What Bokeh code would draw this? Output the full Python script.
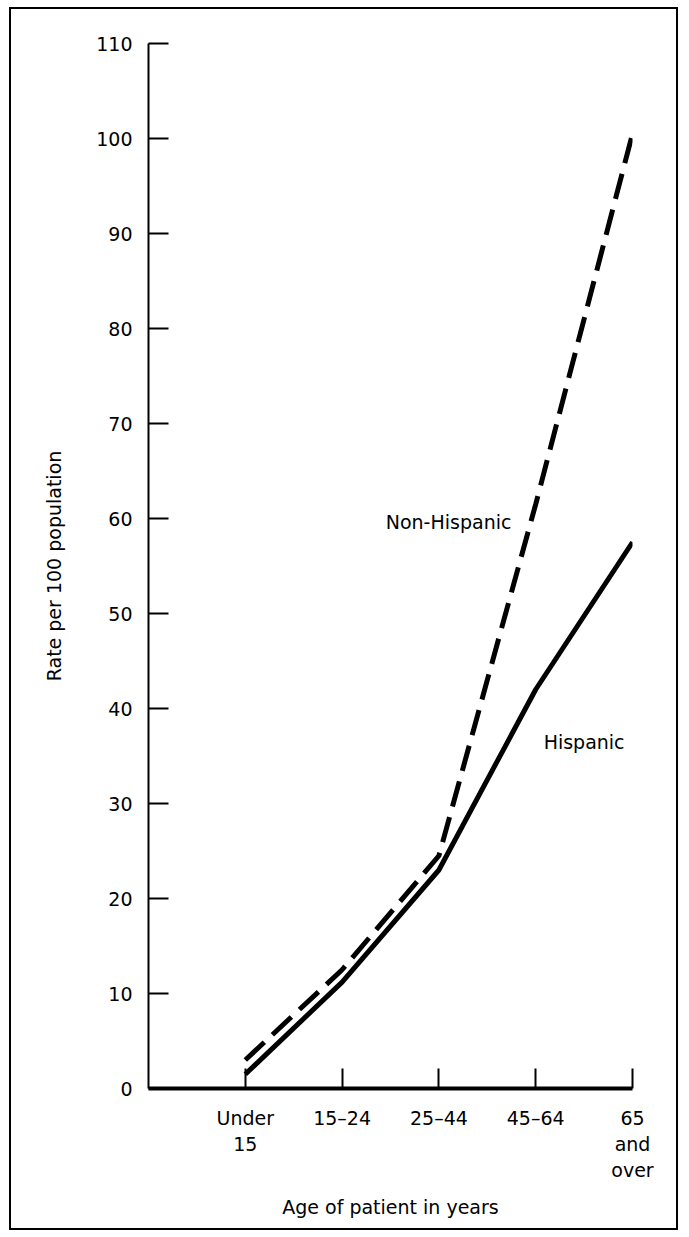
from bokeh.plotting import figure
from bokeh.layouts import column
from bokeh.models import FixedTicker, Range1d, Label, InlineStyleSheet
from bokeh.embed import file_html
from bokeh.resources import INLINE

# ---- data ----
age_groups = ["Under\n15", "15\u201324", "25\u201344", "45\u201364", "65\nand\nover"]
x_pos = [1, 2, 3, 4, 5]
hispanic = [1.5, 11.2, 23.0, 42.0, 57.5]
non_hispanic = [3.0, 12.5, 24.5, 61.5, 100.5]
y_ticks = [0, 10, 20, 30, 40, 50, 60, 70, 80, 90, 100, 110]

FONT = "DejaVu Sans"
FS = "19px"

p = figure(frame_width=484, frame_height=1045,
           min_border_left=137, min_border_right=44,
           min_border_top=34, min_border_bottom=140,
           x_range=Range1d(0, 5), y_range=Range1d(0, 110),
           output_backend="svg", toolbar_location=None)

p.xgrid.visible = False
p.ygrid.visible = False
p.outline_line_color = None
p.background_fill_color = "white"
p.border_fill_color = "white"

# lines
p.line(x_pos, hispanic, line_color="black", line_width=5, line_join="round")
p.line(x_pos, non_hispanic, line_color="black", line_width=5, line_dash="26 11")

# y axis
ya = p.yaxis[0]
ya.ticker = FixedTicker(ticks=y_ticks)
ya.major_tick_in = 20
ya.major_tick_out = 0
ya.minor_tick_line_color = None
ya.axis_line_width = 2
ya.major_tick_line_width = 2
ya.major_label_standoff = 16
ya.major_label_text_font = FONT
ya.major_label_text_font_size = FS
ya.major_label_text_color = "black"
ya.axis_label = "Rate per 100 population"
ya.axis_label_text_font = FONT
ya.axis_label_text_font_size = FS
ya.axis_label_text_font_style = "normal"
ya.axis_label_text_color = "black"
ya.axis_label_standoff = 28

# x axis
xa = p.xaxis[0]
xa.ticker = FixedTicker(ticks=x_pos)
xa.major_label_overrides = {x: lab for x, lab in zip(x_pos, age_groups)}
xa.major_tick_in = 20
xa.major_tick_out = 0
xa.minor_tick_line_color = None
xa.axis_line_width = 4
xa.major_tick_line_width = 2
xa.major_label_standoff = 18
xa.major_label_text_font = FONT
xa.major_label_text_font_size = FS
xa.major_label_text_color = "black"
xa.axis_label = "Age of patient in years"
xa.axis_label_text_font = FONT
xa.axis_label_text_font_size = FS
xa.axis_label_text_font_style = "normal"
xa.axis_label_text_color = "black"
xa.axis_label_standoff = 12

# series labels
p.add_layout(Label(x=3.1, y=59.6, text="Non-Hispanic", text_align="center",
                   text_baseline="middle", text_font=FONT, text_font_size=FS,
                   text_color="black"))
p.add_layout(Label(x=4.5, y=36.5, text="Hispanic", text_align="center",
                   text_baseline="middle", text_font=FONT, text_font_size=FS,
                   text_color="black"))

# box around the whole chart
box_css = InlineStyleSheet(css=":host { border: 2px solid black; margin: 7px 0 0 9px; }")
layout = column(p, stylesheets=[box_css])

open("out.html", "w").write(file_html(layout, INLINE))
